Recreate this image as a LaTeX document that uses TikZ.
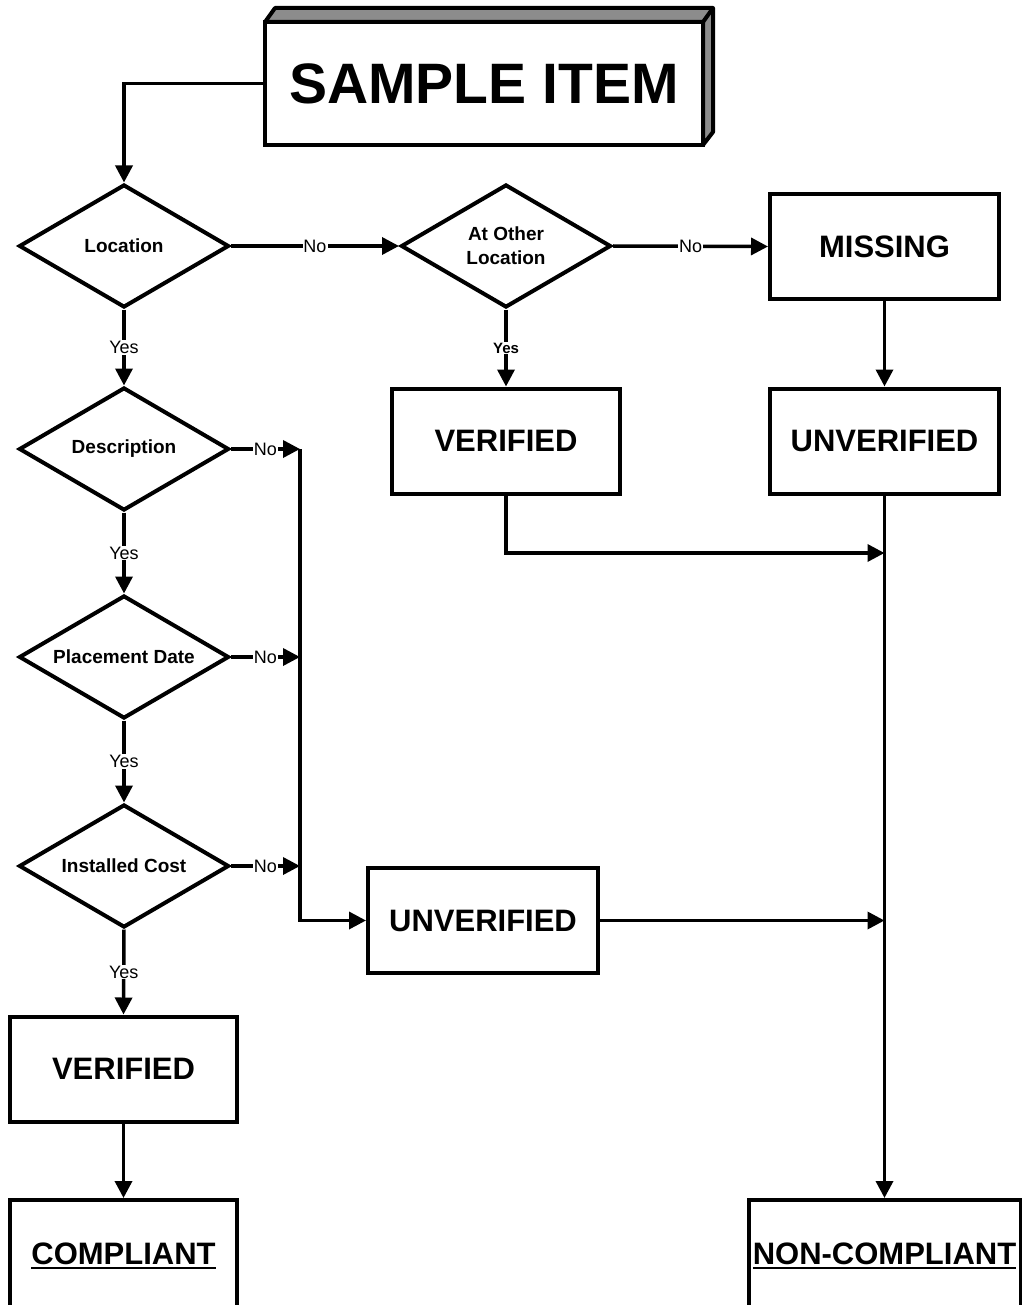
\documentclass[tikz,border=0pt]{standalone}
\usepackage{fontspec}
\setmainfont{Liberation Sans}
\usetikzlibrary{shapes.geometric,arrows.meta}
\newcommand{\undl}[1]{\leavevmode\setbox0\hbox{#1}\rlap{\rule[-5pt]{\wd0}{2.5pt}}\box0}
\begin{document}
\begin{tikzpicture}[x=1pt,y=-1pt,
  dec/.style={diamond, draw, line width=4pt, minimum width=210pt, minimum height=123pt, aspect=1.7, inner sep=0pt, font=\fontsize{19}{24}\selectfont\bfseries, align=center},
  res/.style={rectangle, draw, line width=4pt, minimum width=229pt, minimum height=105pt, inner sep=0pt, font=\fontsize{31}{37}\selectfont\bfseries},
  con/.style={line width=3.5pt, -{Triangle[length=17pt,width=17pt]}},
  lbl/.style={fill=white, inner sep=1pt, font=\fontsize{18}{22}\selectfont}]
\useasboundingbox (0,0) rectangle (1021,1305);
\filldraw[fill=black!45, line width=4pt, line join=round] (265,22) -- (275,8) -- (713,8) -- (713,132) -- (703,145) -- (703,22) -- cycle;
\draw[line width=4pt] (703,22) -- (713,8);
\node[res, fill=white, minimum width=438pt, minimum height=123pt, font=\fontsize{57}{68}\selectfont\bfseries] (top) at (484,83.5){SAMPLE ITEM};
\node[dec] (dec0) at (124,246){Location};
\node[dec] (dec1) at (506,246){At Other\\Location};
\node[dec] (dec2) at (124,449){Description};
\node[dec] (dec3) at (124,657){Placement Date};
\node[dec] (dec4) at (124,866){Installed Cost};
\node[res] (box0) at (884.5,246.5){MISSING};
\node[res] (box1) at (884.5,441){UNVERIFIED};
\node[res, minimum width=228pt] (box2) at (506,441){VERIFIED};
\node[res, minimum width=230pt] (box3) at (483,920.5){UNVERIFIED};
\node[res, minimum width=227pt] (box4) at (123.5,1069){VERIFIED};
\node[res, minimum width=227pt, minimum height=112pt] (box5) at (123.5,1256){\undl{COMPLIANT}};
\node[res, minimum width=272pt, minimum height=112pt] (box6) at (884.5,1256){\undl{NON-COMPLIANT}};
\coordinate (j0) at (300,449);
\coordinate (j1) at (300,657);
\coordinate (j2) at (300,866);
\coordinate (j3) at (884.5,553);
\coordinate (j4) at (884.5,920.5);
\draw[con] (top.west) -| (dec0.north);
\draw[con] (dec0.east) -- node[lbl]{No} (dec1.west);
\draw[con] (dec1.east) -- node[lbl]{No} (box0.west);
\draw[con] (box0.south) -- (box1.north);
\draw[con] (dec1.south) -- node[lbl, font=\fontsize{15}{18}\selectfont\bfseries]{Yes} (box2.north);
\draw[con] (box2.south) |- (j3);
\draw[con] (box1.south) -- (box6.north);
\draw[con] (dec0.south) -- node[lbl]{Yes} (dec2.north);
\draw[con] (dec2.east) -- node[lbl]{No} (j0);
\draw[con] (j0) |- (box3.west);
\draw[con] (dec2.south) -- node[lbl]{Yes} (dec3.north);
\draw[con] (dec3.east) -- node[lbl]{No} (j1);
\draw[con] (dec3.south) -- node[lbl]{Yes} (dec4.north);
\draw[con] (dec4.east) -- node[lbl]{No} (j2);
\draw[con] (dec4.south) -- node[lbl]{Yes} (box4.north);
\draw[con] (box4.south) -- (box5.north);
\draw[con] (box3.east) -- (j4);
\end{tikzpicture}
\end{document}
